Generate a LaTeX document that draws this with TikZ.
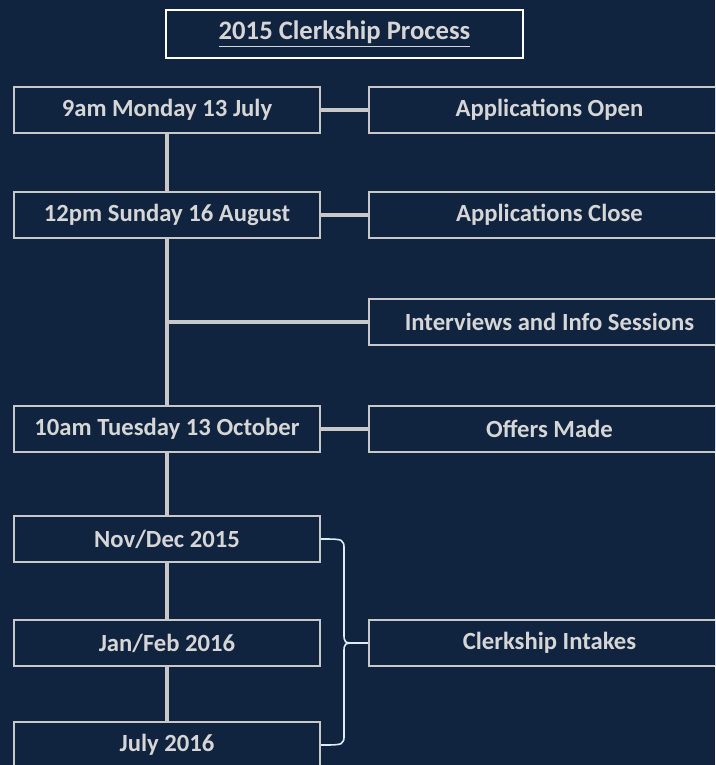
\documentclass[tikz,border=0pt]{standalone}
\usepackage{fontspec}
\setmainfont{Carlito}
\definecolor{navy}{RGB}{16,36,63}
\definecolor{boxline}{RGB}{200,200,200}
\definecolor{txtgray}{RGB}{214,214,214}
\definecolor{bracecol}{RGB}{222,236,250}
\tikzset{
  datebox/.style={draw=boxline, line width=1.4pt, fill=navy, text=txtgray,
    font=\bfseries\fontsize{18.5}{22}\selectfont,
    minimum width=229.5pt, minimum height=34.5pt, inner sep=0pt},
  eventbox/.style={datebox, minimum width=270.75pt},
  titlebox/.style={datebox, draw=white, font=\bfseries\fontsize{20}{24}\selectfont,
    minimum width=267.75pt, minimum height=36pt},
  timeline/.style={draw=boxline, line width=2.8pt},
  link/.style={draw=boxline, line width=3pt},
}
\begin{document}
\begin{tikzpicture}[x=0.75pt,y=-0.75pt]
	  \useasboundingbox (0,0) rectangle (715,765);
	  \clip (0,0) rectangle (715,765);
	  \fill[navy] (0,0) rectangle (715,765);
	  % title
	  \node[titlebox] (T) at (344.5,34) {\underline{2015 Clerkship Process}};
	  % dates
	  \node[datebox] (D1) at (167,110) {9am Monday 13 July};
	  \node[datebox] (D2) at (167,215) {12pm Sunday 16 August};
	  \node[datebox] (D4) at (167,429) {10am Tuesday 13 October};
	  \node[datebox] (D5) at (167,539) {Nov/Dec 2015};
	  \node[datebox] (D6) at (167,643) {Jan/Feb 2016};
	  \node[datebox] (D7) at (167,745) {July 2016};
	  % events
	  \node[eventbox] (E1) at (549.5,110) {Applications Open};
	  \node[eventbox] (E2) at (549.5,215) {Applications Close};
	  \node[eventbox] (E3) at (549.5,322) {Interviews and Info Sessions};
	  \node[eventbox] (E4) at (549.5,429) {Offers Made};
	  \node[eventbox] (E6) at (549.5,643) {Clerkship Intakes};
	  \coordinate (I) at (167,322);
	  \coordinate (B) at (357,643);
	  % timeline
	  \draw[timeline] (D1) -- (D2);
	  \draw[timeline] (D2) -- (D4);
	  \draw[timeline] (D4) -- (D5);
	  \draw[timeline] (D5) -- (D6);
	  \draw[timeline] (D6) -- (D7);
	  \draw[link] (D1) -- (E1);
	  \draw[link] (D2) -- (E2);
	  \draw[link] (I) -- (E3);
	  \draw[link] (D4) -- (E4);
	  % brace
	  \draw[bracecol, line width=1.2pt] (D5.east) .. controls (344,539) .. (344,550) -- (344,633)
	    .. controls (344,643) .. (B) -- (E6.west);
	  \draw[bracecol, line width=1.2pt] (D7.east) .. controls (344,745) .. (344,734) -- (344,653)
	    .. controls (344,643) .. (B);
	\end{tikzpicture}
\end{document}
